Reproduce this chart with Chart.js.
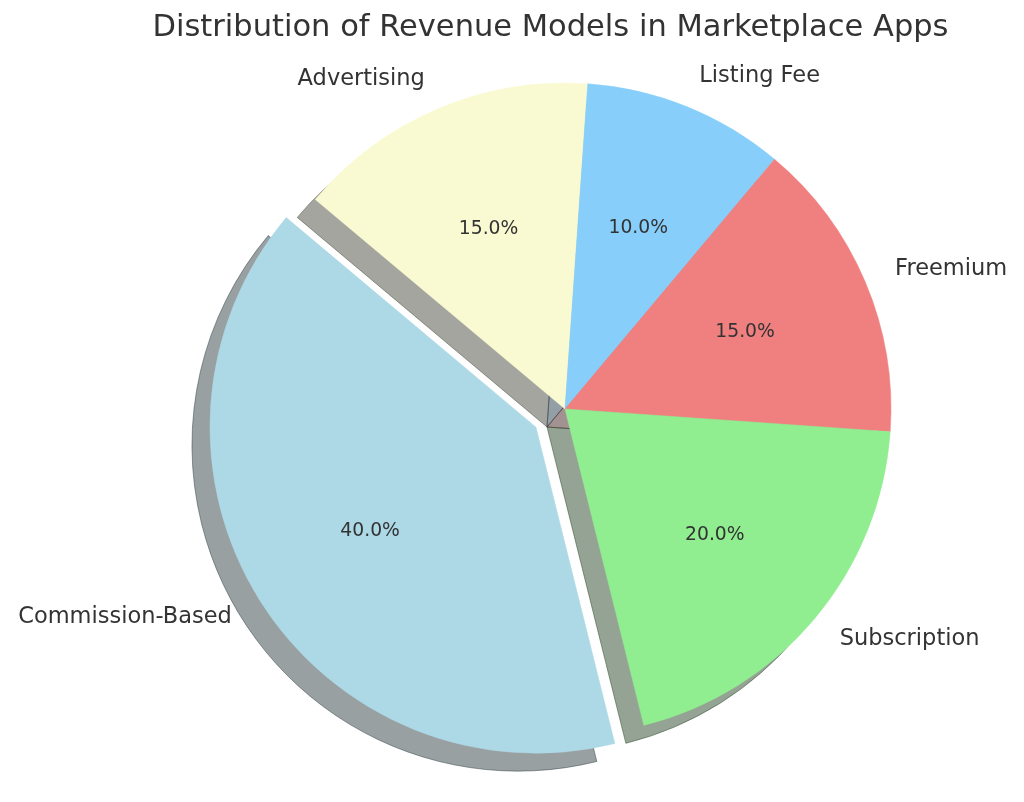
<!DOCTYPE html>
<html>
<head>
<meta charset="utf-8">
<script src="https://cdn.jsdelivr.net/npm/chart.js@4/dist/chart.umd.min.js"></script>
<style>
  body { margin: 0; background: #fff; }
  #wrap { width: 1024px; height: 802px; }
</style>
</head>
<body>
<div id="wrap"><canvas id="revChart" width="1024" height="802"></canvas></div>
<script>
// slices listed clockwise, starting at the top-left (matplotlib startangle 140)
const categories = ['Advertising', 'Listing Fee', 'Freemium', 'Subscription', 'Commission-Based'];
const shares = [15, 10, 15, 20, 40];
const sliceColors = ['#FAFAD2', '#87CEFA', '#F08080', '#90EE90', '#ADD8E6'];
const explode = [0, 0, 0, 0, 0.105];   // fraction of radius
const chartTitle = 'Distribution of Revenue Models in Marketplace Apps';

const textColor = '#333333';
const shadowDX = -18, shadowDY = 18;

function shadowColor(hex) {
  let r = parseInt(hex.slice(1, 3), 16), g = parseInt(hex.slice(3, 5), 16), b = parseInt(hex.slice(5, 7), 16);
  return 'rgba(' + Math.round(r * 0.3) + ',' + Math.round(g * 0.3) + ',' + Math.round(b * 0.3) + ',0.5)';
}

function arcShift(arc, i) {
  let half = (arc.startAngle + arc.endAngle) / 2;
  let d = (explode[i] || 0) * arc.outerRadius;
  return { x: Math.cos(half) * d, y: Math.sin(half) * d, half: half };
}

const pieExtras = {
  id: 'pieExtras',
  afterUpdate(chart) {
    // pull exploded slices outward without changing their radius
    chart.getDatasetMeta(0).data.forEach((arc, i) => {
      if (arc._explodeWrapped) return;
      let orig = arc.draw;
      arc.draw = function(ctx, area) {
        let s = arcShift(this, i);
        ctx.save();
        ctx.translate(s.x, s.y);
        orig.call(this, ctx, area);
        ctx.restore();
      };
      arc._explodeWrapped = true;
    });
  },
  beforeDatasetsDraw(chart) {
    let ctx = chart.ctx;
    chart.getDatasetMeta(0).data.forEach((arc, i) => {
      let s = arcShift(arc, i);
      let col = shadowColor(sliceColors[i]);
      ctx.save();
      ctx.translate(s.x + shadowDX, s.y + shadowDY);
      ctx.beginPath();
      ctx.moveTo(arc.x, arc.y);
      ctx.arc(arc.x, arc.y, arc.outerRadius, arc.startAngle, arc.endAngle);
      ctx.closePath();
      ctx.fillStyle = col;
      ctx.fill();
      ctx.strokeStyle = col;
      ctx.lineWidth = 1;
      ctx.stroke();
      ctx.restore();
    });
  },
  afterDatasetsDraw(chart) {
    let ctx = chart.ctx;
    let total = shares.reduce((a, b) => a + b, 0);
    chart.getDatasetMeta(0).data.forEach((arc, i) => {
      let s = arcShift(arc, i);
      let cx = arc.x + s.x, cy = arc.y + s.y, r = arc.outerRadius;
      let c = Math.cos(s.half), sn = Math.sin(s.half);
      ctx.save();
      ctx.fillStyle = textColor;
      ctx.textBaseline = 'middle';
      ctx.font = '22.5px "DejaVu Sans"';
      ctx.textAlign = c > 0 ? 'left' : 'right';
      ctx.fillText(categories[i], cx + c * r * 1.1, cy + sn * r * 1.1);
      ctx.font = '18.75px "DejaVu Sans"';
      ctx.textAlign = 'center';
      ctx.fillText((shares[i] / total * 100).toFixed(1) + '%', cx + c * r * 0.6, cy + sn * r * 0.6);
      ctx.restore();
    });
  },
  afterDraw(chart) {
    let ctx = chart.ctx;
    ctx.save();
    ctx.fillStyle = textColor;
    ctx.font = '30.5px "DejaVu Sans"';
    ctx.textAlign = 'center';
    ctx.textBaseline = 'middle';
    ctx.fillText(chartTitle, 550.5, 28);
    ctx.restore();
  }
};

function setupChart() {
  let ctx = document.getElementById('revChart');
  new Chart(ctx, {
    type: 'pie',
    data: {
      labels: categories,
      datasets: [{
        data: shares,
        backgroundColor: sliceColors,
        borderColor: sliceColors,
        borderWidth: 0.5,
        hoverOffset: 0
      }]
    },
    options: {
      responsive: false,
      animation: false,
      events: [],
      rotation: -50,
      radius: 326,
      layout: { padding: { left: 106, right: 0, top: 16, bottom: 0 } },
      plugins: {
        legend: { display: false },
        tooltip: { enabled: false },
        title: { display: false }
      }
    },
    plugins: [pieExtras]
  });
}

setupChart();
</script>
</body>
</html>
